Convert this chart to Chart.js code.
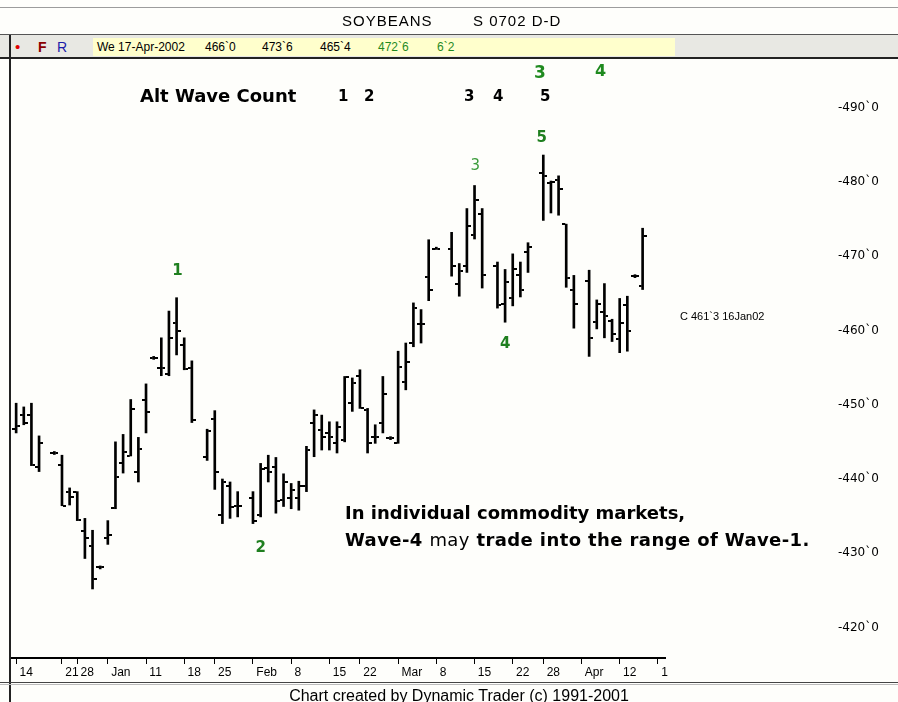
<!DOCTYPE html>
<html>
<head>
<meta charset="utf-8">
<title>SOYBEANS S 0702 D-D</title>
<script src="https://cdn.jsdelivr.net/npm/chart.js@4.4.1/dist/chart.umd.min.js"></script>
<style>
  html, body { margin: 0; padding: 0; background: #fefefb; }
  #wrap { position: relative; width: 898px; height: 702px; overflow: hidden; font-family: "Liberation Sans", Arial, sans-serif; color: #000; }
  #grafico { position: absolute; left: 0; top: 0; }
  .t { position: absolute; white-space: nowrap; line-height: 1; }
  .raya { position: absolute; }
  .bold { font-family: "DejaVu Sans", sans-serif; font-weight: bold; }
  .verde { color: #1f8a1f; }
</style>
</head>
<body>
<div id="wrap">
  <canvas id="grafico" width="898" height="702"></canvas>

  <!-- cabecera -->
  <div class="raya" style="left:0;top:7px;width:898px;height:1px;background:#9c9c9c"></div>
  <div class="t" style="left:342px;top:13px;font-size:15px;letter-spacing:1px">SOYBEANS</div>
  <div class="t" style="left:473px;top:13px;font-size:15px;letter-spacing:1px">S 0702 D-D</div>
  <div class="raya" style="left:0;top:34px;width:898px;height:1px;background:#555"></div>
  <div class="raya" style="left:0;top:35px;width:898px;height:22px;background:#e8e8e3"></div>
  <div class="t" style="left:15px;top:39px;font-size:15px;color:#e00000">&#8226;</div>
  <div class="t" style="left:38px;top:40px;font-size:14px;font-weight:bold;color:#8b0000">F</div>
  <div class="t" style="left:57px;top:40px;font-size:14px;color:#1c1ca8">R</div>
  <div class="raya" style="left:93px;top:38px;width:582px;height:18px;background:#ffffcc"></div>
  <div class="t" style="left:97px;top:41px;font-size:12px">We 17-Apr-2002</div>
  <div class="t" style="left:205px;top:41px;font-size:12px">466`0</div>
  <div class="t" style="left:262px;top:41px;font-size:12px">473`6</div>
  <div class="t" style="left:320px;top:41px;font-size:12px">465`4</div>
  <div class="t verde" style="left:378px;top:41px;font-size:12px">472`6</div>
  <div class="t verde" style="left:437px;top:41px;font-size:12px">6`2</div>
  <div class="raya" style="left:0;top:57px;width:898px;height:2px;background:#222"></div>
  <div class="raya" style="left:9px;top:35px;width:2px;height:667px;background:#222"></div>

  <!-- conteo alternativo -->
  <div class="t bold" style="left:140px;top:87px;font-size:18px">Alt Wave Count</div>
  <div class="t bold" style="left:338px;top:89px;font-size:15px">1</div>
  <div class="t bold" style="left:364px;top:89px;font-size:15px">2</div>
  <div class="t bold" style="left:464px;top:89px;font-size:15px">3</div>
  <div class="t bold" style="left:493px;top:89px;font-size:15px">4</div>
  <div class="t bold" style="left:540px;top:89px;font-size:15px">5</div>
  <div class="t bold verde" style="left:534px;top:64px;font-size:17px">3</div>
  <div class="t bold verde" style="left:595px;top:63px;font-size:16px">4</div>

  <!-- nota -->
  <div class="t bold" style="left:345px;top:504px;font-size:18px">In individual commodity markets,</div>
  <div class="t bold" style="left:345px;top:531px;font-size:18px;letter-spacing:0.4px">Wave-4 <span style="font-weight:normal">may</span> trade into the range of Wave-1.</div>
  <div class="t" style="left:680px;top:311px;font-size:11px">C 461`3 16Jan02</div>

  <!-- pie -->
  <div class="raya" style="left:0;top:682px;width:898px;height:1px;background:#444"></div>
  <div class="raya" style="left:0;top:684px;width:898px;height:1px;background:#bbb"></div>
  <div class="t" style="left:0;width:918px;text-align:center;top:688px;font-size:16px">Chart created by Dynamic Trader (c) 1991-2001</div>
</div>

<script>
// dia de negociacion (0 = 14-Dec-2001) de cada barra
const dias = [1, 2, 3, 4, 6, 7, 8, 9, 10, 11, 12, 13, 14, 15, 16, 17, 18, 19, 20, 21, 22, 23, 24, 26, 27, 28, 29, 30,
  32, 33, 34, 35, 36, 37, 38, 39, 40, 41, 42, 43, 44, 45, 46, 47, 48, 49, 50, 51, 52, 53, 54, 55, 56,
  58, 59, 60, 61, 62, 64, 65, 66, 67, 68, 70, 71, 72, 73, 74, 76, 77, 78, 79, 80, 81, 82, 83];

const aperturas = [446.7, 448.6, 448.6, 441.6, 443.5, 441.9, 438.2, 438.3, 433.0, 431.0, 428.1, 432.1, 436.1, 442.1, 443.1, 441.0, 450.6, 456.3, 455.0, 454.1, 461.0, 458.0, 455.0, 442.9, 448.1, 435.2, 439.0, 436.3,
  437.4, 435.2, 441.5, 441.6, 437.2, 437.5, 437.4, 439.0, 447.5, 446.6, 446.2, 444.8, 445.3, 450.2, 453.8, 449.3, 445.7, 447.5, 445.5, 444.9, 453.1, 458.3, 460.8, 467.2, 471.0,
  471.0, 466.2, 468.7, 472.8, 475.6, 468.7, 463.5, 464.4, 467.5, 470.6, 481.2, 479.8, 480.2, 474.3, 465.4, 466.6, 461.1, 462.5, 461.2, 458.9, 463.4, 467.3, 466.0];

const maximos = [450.2, 449.7, 450.2, 445.8, 443.7, 443.2, 438.8, 438.3, 434.7, 433.1, 428.3, 434.4, 445.0, 446.0, 450.7, 445.6, 452.8, 456.5, 459.0, 462.6, 464.4, 459.0, 455.9, 446.7, 449.2, 440.0, 439.6, 438.3,
  438.3, 442.1, 443.2, 442.9, 440.7, 439.4, 439.7, 444.4, 449.3, 448.6, 447.7, 447.7, 453.8, 453.6, 454.7, 449.5, 447.3, 453.8, 445.7, 457.2, 458.3, 463.7, 462.8, 472.2, 471.2,
  473.2, 469.0, 476.4, 479.5, 476.4, 469.2, 468.2, 470.3, 469.2, 471.8, 483.6, 480.1, 480.8, 474.3, 467.4, 468.1, 464.1, 466.3, 461.5, 464.3, 464.6, 467.5, 473.75];

const minimos = [446.2, 447.3, 441.8, 441.0, 443.3, 436.4, 436.5, 434.4, 429.3, 425.2, 427.9, 431.2, 436.0, 440.8, 443.1, 439.6, 446.2, 456.1, 453.9, 453.9, 456.7, 454.7, 447.6, 442.5, 438.6, 434.0, 434.7, 434.9,
  434.0, 434.9, 439.6, 435.4, 436.3, 436.0, 435.8, 438.3, 443.0, 443.9, 443.9, 443.5, 445.0, 449.1, 449.5, 443.5, 444.8, 446.2, 445.3, 444.8, 452.0, 457.8, 458.3, 464.0, 470.9,
  467.3, 464.6, 467.8, 472.3, 465.7, 463.0, 461.1, 463.3, 464.5, 467.8, 474.8, 475.8, 475.5, 465.8, 460.3, 456.5, 460.2, 459.0, 458.5, 457.0, 457.2, 467.1, 465.5];

const cierres = [447.1, 447.6, 441.9, 444.9, 443.5, 436.4, 437.6, 434.5, 432.0, 426.6, 428.1, 432.5, 440.3, 443.7, 449.4, 444.0, 449.0, 456.3, 455.0, 459.0, 459.9, 454.8, 448.0, 446.5, 441.0, 439.6, 436.2, 436.3,
  434.3, 441.4, 441.0, 437.0, 439.6, 438.5, 439.0, 443.9, 448.6, 445.7, 445.7, 447.0, 453.7, 452.9, 449.6, 444.9, 445.7, 451.4, 445.5, 455.1, 455.8, 463.0, 460.8, 465.5, 471.0,
  468.6, 468.0, 474.1, 477.6, 467.5, 463.4, 466.5, 468.2, 465.5, 471.2, 480.8, 480.0, 479.0, 467.0, 463.6, 459.0, 463.5, 462.0, 459.5, 461.0, 459.9, 467.3, 472.75];

// eje x: viernes de cada semana
const diasEtiqueta = [1, 7, 9, 13, 18, 23, 27, 32, 37, 42, 46, 51, 56, 61, 66, 70, 75, 80, 85];
const etiquetasX = ['14', '21', '28', 'Jan', '11', '18', '25', 'Feb', '8', '15', '22', 'Mar', '8', '15', '22', '28', 'Apr', '12', '1'];

// eje y
const nivelesY = [420, 430, 440, 450, 460, 470, 480, 490];

// ondas de Elliott
const ondasTexto = ['1', '2', '3', '4', '5'];
const ondasDia = [22.1, 33, 61.1, 65, 69.8];
const ondasPrecio = [468.0, 430.7, 482.1, 458.2, 485.9];

function crearMarca(izquierda) {
    const c = document.createElement('canvas');
    c.width = 8;
    c.height = 2;
    const g = c.getContext('2d');
    g.fillStyle = '#000';
    g.fillRect(izquierda ? 0 : 5, 0, 3, 2);
    return c;
}

const pluginOndas = {
    id: 'ondas',
    afterDatasetsDraw(chart) {
        const ctx = chart.ctx;
        const x = chart.scales.x, y = chart.scales.y;
        ctx.save();
        ctx.textAlign = 'center';
        ctx.textBaseline = 'middle';
        ondasTexto.forEach((txt, i) => {
            if (txt === '3') {
                ctx.font = '15px "DejaVu Sans"';
                ctx.fillStyle = '#3c9c3c';
            } else {
                ctx.font = 'bold 15px "DejaVu Sans"';
                ctx.fillStyle = '#1f7f1f';
            }
            ctx.fillText(txt, x.getPixelForValue(ondasDia[i]), y.getPixelForValue(ondasPrecio[i]));
        });
        ctx.restore();
    }
};

const rangos = dias.map((d, i) => ({ x: d, y: [minimos[i], maximos[i]] }));
const puntosApertura = dias.map((d, i) => ({ x: d, y: aperturas[i] }));
const puntosCierre = dias.map((d, i) => ({ x: d, y: cierres[i] }));

Chart.defaults.font.family = '"Liberation Sans", Arial, sans-serif';
Chart.defaults.color = '#000';

new Chart(document.getElementById('grafico').getContext('2d'), {
    type: 'bar',
    data: {
        datasets: [
            { type: 'bar', data: rangos, backgroundColor: '#000', barThickness: 2, grouped: false },
            { type: 'scatter', data: puntosApertura, pointStyle: crearMarca(true), pointRadius: 3 },
            { type: 'scatter', data: puntosCierre, pointStyle: crearMarca(false), pointRadius: 3 }
        ]
    },
    options: {
        responsive: false,
        animation: false,
        devicePixelRatio: 1,
        layout: { padding: { top: 60, left: 11, right: 18, bottom: 0 } },
        plugins: { legend: { display: false }, tooltip: { enabled: false } },
        scales: {
            x: {
                type: 'linear',
                min: 0.327,
                max: 85.93,
                offset: false,
                grid: { offset: false, drawOnChartArea: false, color: '#000', tickLength: 6 },
                border: { color: '#000', width: 2 },
                afterBuildTicks: s => { s.ticks = diasEtiqueta.map(v => ({ value: v })); },
                afterFit: s => { s.height = 44; s.paddingLeft = 0; s.paddingRight = 0; },
                ticks: {
                    autoSkip: false, maxRotation: 0, align: 'start', padding: 1,
                    font: { size: 12 },
                    callback: (v, i) => ' ' + etiquetasX[i]
                }
            },
            y: {
                position: 'right',
                min: 415.91,
                max: 496.39,
                grid: { display: false },
                border: { display: false },
                afterBuildTicks: s => { s.ticks = nivelesY.map(v => ({ value: v })); },
                afterFit: s => { s.width = 215; s.paddingTop = 0; s.paddingBottom = 0; },
                ticks: {
                    crossAlign: 'near', padding: 165,
                    font: { family: '"DejaVu Sans", sans-serif', size: 12 },
                    callback: v => '-' + v + '`0'
                }
            }
        }
    },
    plugins: [pluginOndas]
});
</script>
</body>
</html>
